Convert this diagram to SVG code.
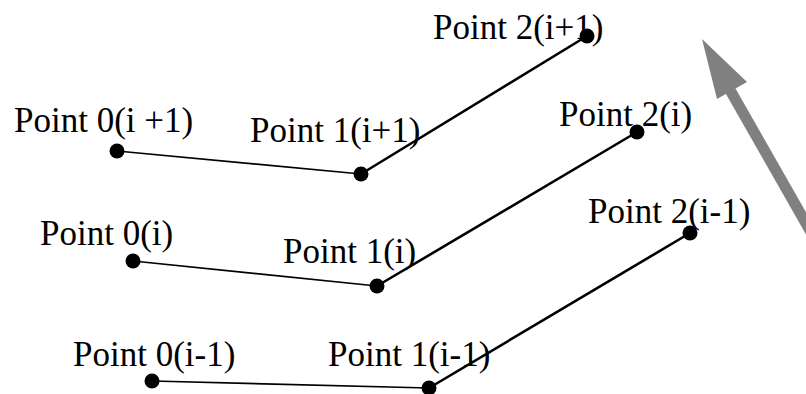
<svg xmlns="http://www.w3.org/2000/svg" width="806" height="394" viewBox="0 0 806 394">
<style>
.thin{stroke:#000;stroke-width:1.6;fill:none}
.thick{stroke:#000;stroke-width:2.6;fill:none}
.dot{fill:#000}
text{font-family:"Liberation Serif","Times New Roman",serif;font-size:35px;fill:#000}
</style>
<rect width="806" height="394" fill="#fff"/>
<g id="connectors">
<line class="thin" x1="117" y1="151" x2="361" y2="174"/>
<line class="thick" x1="361" y1="174" x2="587" y2="36"/>
<line class="thin" x1="133" y1="261" x2="377" y2="286"/>
<line class="thick" x1="377" y1="286" x2="637" y2="132"/>
<line class="thin" x1="152" y1="381" x2="429" y2="388"/>
<line class="thick" x1="429" y1="388" x2="690" y2="233"/>
</g>
<g id="arrow">
<line x1="812" y1="234" x2="730" y2="90" stroke="#808080" stroke-width="11"/>
<polygon points="702,39 747,82 717,99" fill="#808080"/>
</g>
<g id="p0_ip1"><circle class="dot" cx="117" cy="151" r="7.5"/><text x="14" y="132">Point 0(i +1)</text></g>
<g id="p1_ip1"><circle class="dot" cx="361" cy="174" r="7.5"/><text x="250" y="142">Point 1(i+1)</text></g>
<g id="p2_ip1"><text x="433" y="39">Point 2(i+1)</text><circle class="dot" cx="587" cy="36" r="7.5"/></g>
<g id="p0_i"><circle class="dot" cx="133" cy="261" r="7.5"/><text x="40" y="245">Point 0(i)</text></g>
<g id="p1_i"><circle class="dot" cx="377" cy="286" r="7.5"/><text x="283" y="263">Point 1(i)</text></g>
<g id="p2_i"><text x="559" y="126">Point 2(i)</text><circle class="dot" cx="637" cy="132" r="7.5"/></g>
<g id="p0_im1"><circle class="dot" cx="152" cy="381" r="7.5"/><text x="73" y="366">Point 0(i-1)</text></g>
<g id="p1_im1"><circle class="dot" cx="429" cy="388" r="7.5"/><text x="328" y="366">Point 1(i-1)</text></g>
<g id="p2_im1"><text x="588" y="223">Point 2(i-1)</text><circle class="dot" cx="690" cy="233" r="7.5"/></g>
</svg>
